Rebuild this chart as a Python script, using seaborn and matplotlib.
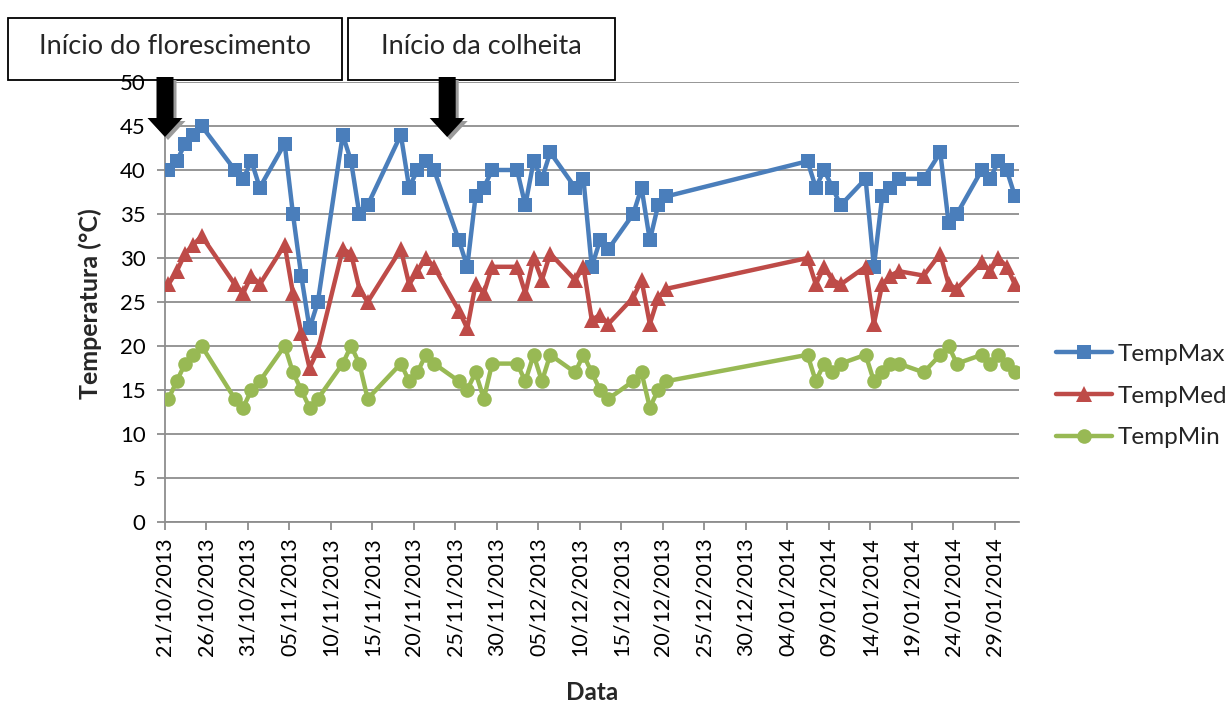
import matplotlib
matplotlib.use('Agg')
import matplotlib.pyplot as plt
import matplotlib.dates as mdates
import seaborn as sns
import pandas as pd
from matplotlib.patches import Rectangle, Polygon
from matplotlib.lines import Line2D

# ---------------- data ----------------
dates = [
    '21/10/2013', '22/10/2013', '23/10/2013', '24/10/2013', '25/10/2013',
    '29/10/2013', '30/10/2013', '31/10/2013', '01/11/2013',
    '04/11/2013', '05/11/2013', '06/11/2013', '07/11/2013', '08/11/2013',
    '11/11/2013', '12/11/2013', '13/11/2013', '14/11/2013',
    '18/11/2013', '19/11/2013', '20/11/2013', '21/11/2013', '22/11/2013',
    '25/11/2013', '26/11/2013', '27/11/2013', '28/11/2013', '29/11/2013',
    '02/12/2013', '03/12/2013', '04/12/2013', '05/12/2013', '06/12/2013',
    '09/12/2013', '10/12/2013', '11/12/2013', '12/12/2013', '13/12/2013',
    '16/12/2013', '17/12/2013', '18/12/2013', '19/12/2013', '20/12/2013',
    '06/01/2014', '07/01/2014', '08/01/2014', '09/01/2014', '10/01/2014',
    '13/01/2014', '14/01/2014', '15/01/2014', '16/01/2014', '17/01/2014',
    '20/01/2014', '22/01/2014', '23/01/2014', '24/01/2014',
    '27/01/2014', '28/01/2014', '29/01/2014', '30/01/2014', '31/01/2014',
]
temp_max = [
    40, 41, 43, 44, 45,
    40, 39, 41, 38,
    43, 35, 28, 22, 25,
    44, 41, 35, 36,
    44, 38, 40, 41, 40,
    32, 29, 37, 38, 40,
    40, 36, 41, 39, 42,
    38, 39, 29, 32, 31,
    35, 38, 32, 36, 37,
    41, 38, 40, 38, 36,
    39, 29, 37, 38, 39,
    39, 42, 34, 35,
    40, 39, 41, 40, 37,
]
temp_med = [
    27, 28.5, 30.5, 31.5, 32.5,
    27, 26, 28, 27,
    31.5, 26, 21.5, 17.5, 19.5,
    31, 30.5, 26.5, 25,
    31, 27, 28.5, 30, 29,
    24, 22, 27, 26, 29,
    29, 26, 30, 27.5, 30.5,
    27.5, 29, 23, 23.5, 22.5,
    25.5, 27.5, 22.5, 25.5, 26.5,
    30, 27, 29, 27.5, 27,
    29, 22.5, 27, 28, 28.5,
    28, 30.5, 27, 26.5,
    29.5, 28.5, 30, 29, 27,
]
temp_min = [
    14, 16, 18, 19, 20,
    14, 13, 15, 16,
    20, 17, 15, 13, 14,
    18, 20, 18, 14,
    18, 16, 17, 19, 18,
    16, 15, 17, 14, 18,
    18, 16, 19, 16, 19,
    17, 19, 17, 15, 14,
    16, 17, 13, 15, 16,
    19, 16, 18, 17, 18,
    19, 16, 17, 18, 18,
    17, 19, 20, 18,
    19, 18, 19, 18, 17,
]
series_names = ['TempMax', 'TempMed', 'TempMin']
tick_labels = ['21/10/2013', '26/10/2013', '31/10/2013', '05/11/2013', '10/11/2013',
               '15/11/2013', '20/11/2013', '25/11/2013', '30/11/2013', '05/12/2013',
               '10/12/2013', '15/12/2013', '20/12/2013', '25/12/2013', '30/12/2013',
               '04/01/2014', '09/01/2014', '14/01/2014', '19/01/2014', '24/01/2014',
               '29/01/2014']
annotations = ['Início do florescimento', 'Início da colheita']
annotation_dates = ['21/10/2013', '24/11/2013']
y_ticks = [0, 5, 10, 15, 20, 25, 30, 35, 40, 45, 50]

# ---------------- style ----------------
colors = {'TempMax': '#4A7EBB', 'TempMed': '#BE4B48', 'TempMin': '#98B954'}
markers = {'TempMax': 's', 'TempMed': '^', 'TempMin': 'o'}
msizes = {'TempMax': 10, 'TempMed': 11, 'TempMin': 10.5}

sns.set_theme(style='white')
plt.rcParams['font.family'] = ['Lato', 'DejaVu Sans']

W, H = 1231, 702
fig = plt.figure(figsize=(W / 100, H / 100), dpi=100)
ax_l, ax_r, ax_t, ax_b = 165, 1019, 82, 522
ax = fig.add_axes([ax_l / W, 1 - ax_b / H, (ax_r - ax_l) / W, (ax_b - ax_t) / H])

dt = pd.to_datetime(dates, dayfirst=True) + pd.Timedelta(hours=10)
df = pd.DataFrame({'Data': dt, 'TempMax': temp_max, 'TempMed': temp_med, 'TempMin': temp_min})
long = df.melt(id_vars='Data', value_vars=series_names, var_name='Serie', value_name='Temp')

for name in series_names:
    sub = long[long['Serie'] == name]
    sns.lineplot(data=sub, x='Data', y='Temp', color=colors[name], marker=markers[name],
                 markersize=msizes[name], markeredgewidth=0, linewidth=3.2, ax=ax,
                 legend=False, zorder=3)

t0 = pd.to_datetime(tick_labels[0], dayfirst=True)
ax.set_xlim(t0, t0 + pd.Timedelta(days=102.9))
ax.set_ylim(0, 50)
ax.set_yticks(y_ticks)
ax.set_yticklabels([str(v) for v in y_ticks], fontsize=16)
xt = pd.to_datetime(tick_labels, dayfirst=True)
ax.set_xticks(xt)
ax.set_xticklabels(tick_labels, rotation=90, fontsize=15.5)
ax.set_xlabel('')
ax.set_ylabel('')

grid_c = '#8E8E8E'
ax.yaxis.grid(True, color=grid_c, linewidth=1.3, zorder=0)
ax.xaxis.grid(False)
for s in ['top', 'right']:
    ax.spines[s].set_visible(False)
for s in ['left', 'bottom']:
    ax.spines[s].set_color(grid_c)
    ax.spines[s].set_linewidth(1.3)
ax.tick_params(axis='both', which='major', width=1.3, color=grid_c,
               direction='out', labelcolor='black')
ax.tick_params(axis='x', bottom=True, length=6, pad=5)
ax.tick_params(axis='y', left=True, length=6, pad=8)

# axis titles
fig.text(90 / W, 1 - 304 / H, 'Temperatura (°C)', rotation=90, ha='center', va='center',
         fontsize=18, fontweight='bold')
fig.text(592 / W, 1 - 692 / H, 'Data', ha='center', va='center', fontsize=17.5, fontweight='bold')

# legend
handles = [Line2D([], [], color=colors[n], marker=markers[n], markersize=msizes[n],
                  markeredgewidth=0, linewidth=3.2) for n in series_names]
fig.legend(handles, series_names, loc='center left', bbox_to_anchor=(1056 / W, 1 - 396 / H),
           frameon=False, fontsize=17.5, labelspacing=0.85, handlelength=2.3,
           handletextpad=0.25, borderaxespad=0, borderpad=0)

# annotation boxes
boxes = [(8, 342), (348, 615)]
for (x0, x1), txt in zip(boxes, annotations):
    fig.patches.append(Rectangle((x0 / W, 1 - 80 / H), (x1 - x0) / W, 62 / H,
                                 transform=fig.transFigure, fill=False, edgecolor='black',
                                 linewidth=1.3))
    fig.text((x0 + x1) / 2 / W, 1 - 47 / H, txt, ha='center', va='center', fontsize=19.5)

# arrows pointing to the dates
fig.canvas.draw()
for d in annotation_dates:
    xd = pd.to_datetime(d, dayfirst=True)
    cx = ax.transData.transform((mdates.date2num(xd), 0))[0]
    top, hs, tip = 77, 118, 137
    sw, hw = 8.5, 17.5
    pts = [(cx - sw, top), (cx + sw, top), (cx + sw, hs), (cx + hw, hs), (cx, tip),
           (cx - hw, hs), (cx - sw, hs)]
    for off, col, z in [(3, '#9A9A9A', 5), (0, 'black', 6)]:
        poly = [((x + off) / W, 1 - (y + off) / H) for x, y in pts]
        fig.patches.append(Polygon(poly, closed=True, transform=fig.transFigure,
                                   facecolor=col, edgecolor='none', zorder=z))

fig.savefig('out.png', dpi=100)
